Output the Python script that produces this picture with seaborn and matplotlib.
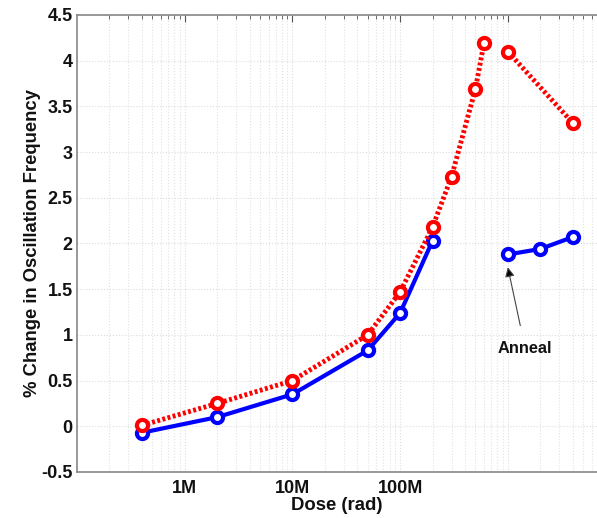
import matplotlib
matplotlib.use("Agg")
import matplotlib.pyplot as plt
import matplotlib.ticker as mticker
import numpy as np
import pandas as pd
import seaborn as sns

# Data (dose in rad)
red_dose = [4e5, 2e6, 1e7, 5e7, 1e8, 2e8, 3e8, 5e8, 6e8]
red_change = [0.01, 0.25, 0.50, 1.00, 1.47, 2.18, 2.73, 3.69, 4.19]
red_anneal_dose = [1e9, 4e9]
red_anneal_change = [4.10, 3.32]

blue_dose = [4e5, 2e6, 1e7, 5e7, 1e8, 2e8]
blue_change = [-0.07, 0.10, 0.35, 0.83, 1.24, 2.03]
blue_anneal_dose = [1e9, 2e9, 4e9]
blue_anneal_change = [1.88, 1.94, 2.07]

x_ticks = [1e6, 1e7, 1e8, 1e9]
x_ticklabels = ["1M", "10M", "100M", ""]
y_ticks = [-0.5, 0, 0.5, 1, 1.5, 2, 2.5, 3, 3.5, 4, 4.5]

red_df = pd.DataFrame({
    "dose": red_dose + red_anneal_dose,
    "change": red_change + red_anneal_change,
    "seg": ["pre"] * len(red_dose) + ["post"] * len(red_anneal_dose),
})
blue_df = pd.DataFrame({
    "dose": blue_dose + blue_anneal_dose,
    "change": blue_change + blue_anneal_change,
    "seg": ["pre"] * len(blue_dose) + ["post"] * len(blue_anneal_dose),
})

sns.set_style("white")
plt.rcParams["font.family"] = ["Liberation Sans", "DejaVu Sans"]
plt.rcParams["font.weight"] = "bold"
plt.rcParams["text.color"] = "#111111"
plt.rcParams["axes.labelcolor"] = "#111111"
plt.rcParams["xtick.labelcolor"] = "#111111"
plt.rcParams["ytick.labelcolor"] = "#111111"

W, H = 597, 518
fig = plt.figure(figsize=(W / 100, H / 100), dpi=100)
ax = fig.add_axes([77 / W, (H - 472) / H, (597 - 77) / W, (472 - 15) / H])

sns.lineplot(data=blue_df, x="dose", y="change", units="seg", estimator=None,
             color="#0000ff", lw=3, marker="o", ms=8, mfc="white", mec="#0000ff",
             mew=3, ax=ax, sort=False, legend=False)
sns.lineplot(data=red_df, x="dose", y="change", units="seg", estimator=None,
             color="#ff0000", lw=3.5, ls=(0, (0.6, 0.5)), marker="o", ms=8,
             mfc="white", mec="#ff0000", mew=3, ax=ax, sort=False, legend=False)

ax.set_xscale("log")
ax.set_xlim(1e5, 1e9 * 10 ** (89 / 107.5))
ax.set_ylim(-0.5, 4.5)
ax.set_xticks(x_ticks)
ax.set_xticklabels(x_ticklabels)
ax.xaxis.set_minor_locator(mticker.LogLocator(base=10, subs=np.arange(2, 10)))
ax.xaxis.set_minor_formatter(mticker.NullFormatter())
ax.set_yticks(y_ticks)
ax.set_yticklabels(["-0.5", "0", "0.5", "1", "1.5", "2", "2.5", "3", "3.5", "4", "4.5"])

ax.grid(True, which="major", color="#dcdcdc", ls=":", lw=0.8)
ax.grid(True, which="minor", axis="x", color="#e2e2e2", ls=":", lw=0.8)
ax.set_axisbelow(True)

for s in ["left", "bottom", "top"]:
    ax.spines[s].set_color("#888888")
    ax.spines[s].set_linewidth(1.2)
ax.spines["right"].set_visible(False)

ax.tick_params(which="both", direction="in", top=True, right=False, color="#555555")
ax.tick_params(axis="y", which="major", length=5, labelsize=13, pad=3)
ax.tick_params(axis="x", which="major", length=5, labelsize=13, pad=6)
ax.tick_params(which="minor", length=3)
for lab in ax.get_xticklabels() + ax.get_yticklabels():
    lab.set_fontweight("bold")

ax.set_xlabel("Dose (rad)", fontsize=13.3, fontweight="bold", labelpad=0)
ax.set_ylabel("% Change in Oscillation Frequency", fontsize=13.3, fontweight="bold", labelpad=0)

ax.annotate("Anneal", xy=(1e9, 1.74), xytext=(1.45e9, 0.85),
            fontsize=11.8, fontweight="bold", ha="center", va="center",
            arrowprops=dict(arrowstyle="-|>", color="#666666", lw=0.8,
                            shrinkA=9, shrinkB=0, mutation_scale=14,
                            fc="black", ec="#444444"))

fig.savefig("out.png", dpi=100)
